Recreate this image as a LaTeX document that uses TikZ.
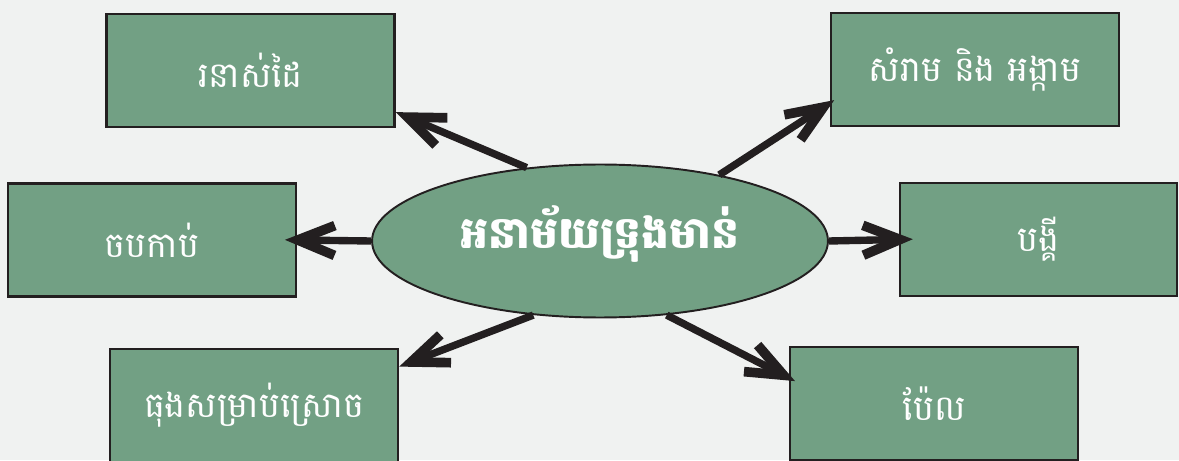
\documentclass[tikz,border=0pt]{standalone}
\usepackage{fontspec}
\newfontfamily\khmerfont[Script=Khmer]{Battambang}
\usetikzlibrary{arrows.meta,shapes.geometric}
\definecolor{leaf}{HTML}{72A084}
\definecolor{paper}{HTML}{F0F2F1}
\definecolor{ink}{HTML}{231F20}

\begin{document}
\begin{tikzpicture}
[x=0.02cm,y=0.02cm,
box/.style={draw=ink,line width=1.4pt,fill=leaf,minimum width=5.76cm,minimum height=2.26cm,
  font=\khmerfont\fontsize{20}{24}\selectfont,text=white},
hub/.style={ellipse,draw=ink,line width=1.1pt,fill=leaf,minimum width=9.12cm,minimum height=3.06cm,
  inner sep=0pt,text depth=16pt,font=\khmerfont\bfseries\fontsize{25}{30}\selectfont,text=white},
link/.style={draw=ink,line width=4.2pt,-{Straight Barb[length=21pt,width=17pt,line width=5.5pt,sharp]}}]

% page
\fill[paper] (0,0) rectangle (1179,460);
\clip (0,0) rectangle (1179,460);

% centre and tools
\node[hub] (hygiene) at (600,219) {អនាម័យទ្រុងមាន់};
\node[box] (rake) at (250.5,389.5) {រនាស់ដៃ};
\node[box] (trash) at (975,390.5) {សំរាម និង អង្កាម};
\node[box] (hoe) at (152,220) {ចបកាប់};
\node[box,minimum width=5.54cm] (basket) at (1038.5,220.5) {បង្គី};
\node[box] (can) at (254,54.5) {ធុងសម្រាប់ស្រោច};
\node[box] (shovel) at (934,56.5) {ប៉ែល};

% arrows
\draw[link] (hygiene.135) -- (rake.-16);
\draw[link,shorten >=-3pt] (hygiene.29) -- (trash.193);
\draw[link,shorten >=-7pt] (hygiene.180) -- (hoe.east);
\draw[link,shorten >=-8pt] (hygiene.0) -- (basket.west);
\draw[link] (hygiene.228) -- (can.15);
\draw[link,shorten >=-4pt] (hygiene.-48) -- (shovel.170);
\end{tikzpicture}
\end{document}
